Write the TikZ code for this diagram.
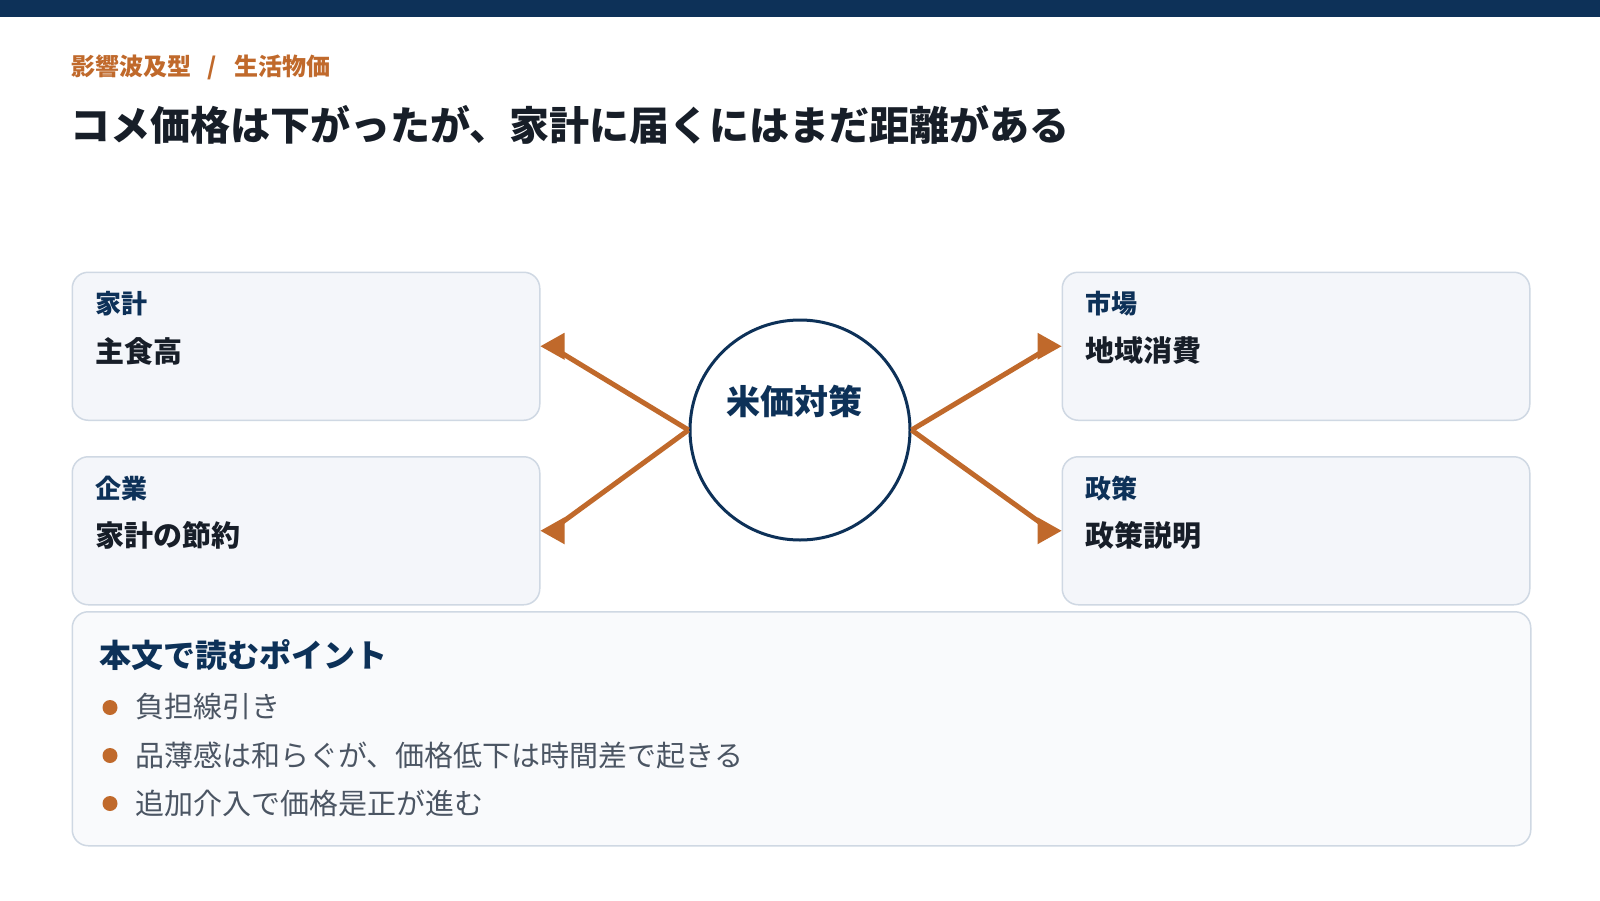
\documentclass[tikz,border=0pt]{standalone}
\usepackage{fontspec}
\setmainfont{Noto Sans CJK JP}
\usetikzlibrary{calc}
\definecolor{navy}{HTML}{0D3158}
\definecolor{accent}{HTML}{C0692B}
\definecolor{ink}{HTML}{171E28}
\definecolor{boxfill}{HTML}{F4F6FA}
\definecolor{notefill}{HTML}{F9FAFC}
\definecolor{boxline}{HTML}{CFD8E3}
\definecolor{greytext}{HTML}{4B5563}
\tikzset{
  card/.style={draw=boxline, line width=1.5pt, fill=boxfill, rounded corners=16pt, inner sep=0pt, anchor=north west, minimum width=467.5pt, minimum height=148pt},
  notecard/.style={draw=boxline, line width=1.5pt, fill=notefill, rounded corners=16pt, inner sep=0pt, anchor=north west, minimum width=1458.5pt, minimum height=234pt},
  hdr/.style={anchor=west, inner sep=0pt, text=navy, font=\fontsize{26}{30}\selectfont\bfseries},
  body/.style={anchor=west, inner sep=0pt, text=ink, font=\fontsize{29}{33}\selectfont\bfseries},
  bullettext/.style={anchor=west, inner sep=0pt, text=greytext, font=\fontsize{29}{33}\selectfont},
  dot/.style={circle, fill=accent, inner sep=0pt, minimum size=15pt},
  flow/.style={draw=accent, line width=5pt},
  head/.style={fill=accent},
}
\begin{document}
\begin{tikzpicture}[x=1pt,y=-1pt]
\useasboundingbox (0,0) rectangle (1600,900);
\fill[white] (0,0) rectangle (1600,900);
\fill[navy] (0,0) rectangle (1600,16.5);

\node[anchor=west, inner sep=0pt, text=accent, font=\fontsize{24}{28}\selectfont\bfseries] (kicker) at (71,67) {影響波及型\hspace{0.7em}/\hspace{0.7em}生活物価};
\node[anchor=west, inner sep=0pt, text=ink, font=\fontsize{40}{46}\selectfont\bfseries] (title) at (70,124.5) {コメ価格は下がったが、家計に届くにはまだ距離がある};

\node[card] (b1) at (71.5,271.5) {};
\node[card] (b2) at (71.5,456) {};
\node[card] (b3) at (1061.5,271.5) {};
\node[card] (b4) at (1061.5,456) {};

\node[hdr] (h1) at (95,304) {家計};
\node[body] (t1) at (95,351) {主食高};
\node[hdr] (h2) at (95,488.5) {企業};
\node[body] (t2) at (95,535.5) {家計の節約};
\node[hdr] (h3) at (1085,304) {市場};
\node[body] (t3) at (1085,351) {地域消費};
\node[hdr] (h4) at (1085,488.5) {政策};
\node[body] (t4) at (1085,535.5) {政策説明};

\node[circle, draw=navy, line width=3pt, fill=white, minimum size=220pt, inner sep=0pt] (hub) at (800,430) {};
\node[inner sep=0pt, text=navy, font=\fontsize{34}{38}\selectfont\bfseries] (hubtext) at (794,401) {米価対策};

\draw[flow] (hub.west) -- ($(b1.east)+(10,0)$);
\draw[flow] (hub.west) -- ($(b2.east)+(10,0)$);
\draw[flow] (hub.east) -- ($(b3.west)+(-10,0)$);
\draw[flow] (hub.east) -- ($(b4.west)+(-10,0)$);
\fill[head] (b1.east) -- ++(24,-13.5) -- ++(0,27) -- cycle;
\fill[head] (b2.east) -- ++(24,-13.5) -- ++(0,27) -- cycle;
\fill[head] (b3.west) -- ++(-24,-13.5) -- ++(0,27) -- cycle;
\fill[head] (b4.west) -- ++(-24,-13.5) -- ++(0,27) -- cycle;

\node[notecard] (note) at (71.5,611) {};
\node[anchor=west, inner sep=0pt, text=navy, font=\fontsize{32}{36}\selectfont\bfseries] (notehead) at (99,655) {本文で読むポイント};
\node[dot] (d1) at (110,707.5) {};
\node[bullettext] (p1) at (135,707) {負担線引き};
\node[dot] (d2) at (110,755.5) {};
\node[bullettext] (p2) at (135,755) {品薄感は和らぐが、価格低下は時間差で起きる};
\node[dot] (d3) at (110,803.5) {};
\node[bullettext] (p3) at (135,803) {追加介入で価格是正が進む};
\end{tikzpicture}
\end{document}
